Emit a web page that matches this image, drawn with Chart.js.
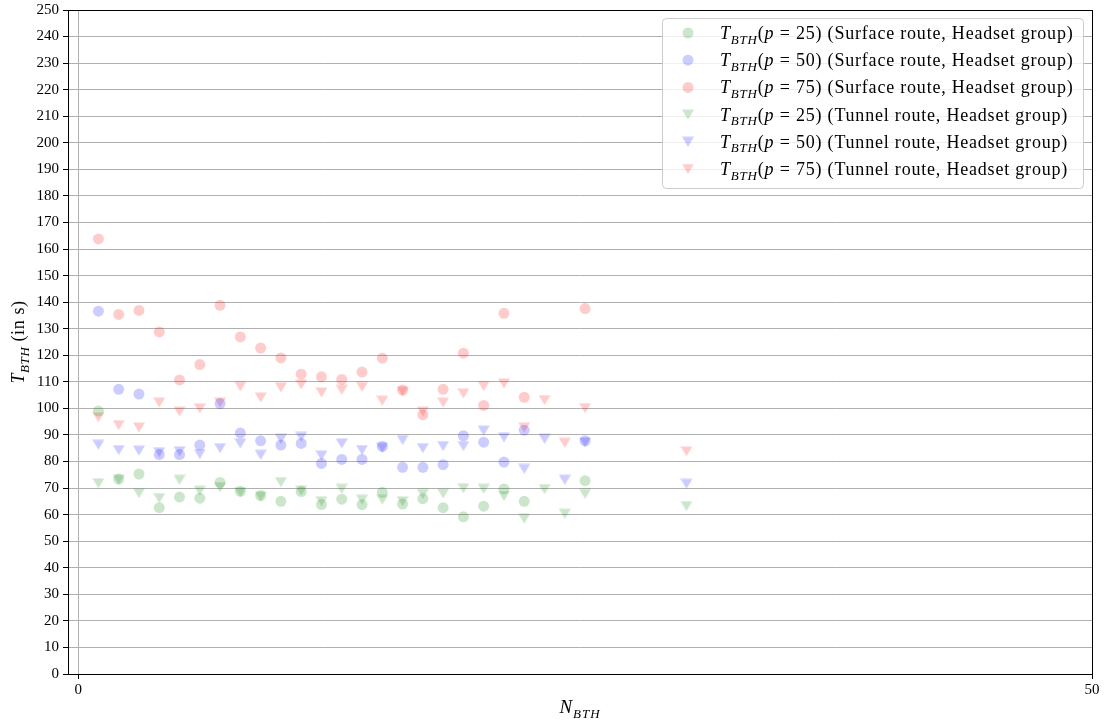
<!DOCTYPE html>
<html>
<head>
<meta charset="utf-8">
<script src="https://cdn.jsdelivr.net/npm/chart.js@4.4.0/dist/chart.umd.min.js"></script>
<style>
  html, body { margin: 0; padding: 0; background: #fff; }
</style>
</head>
<body>
<canvas id="chart" width="1109" height="722"></canvas>
<script>
// N_BTH values for each route
const surfaceN = [1, 2, 3, 4, 5, 6, 7, 8, 9, 10, 11, 12, 13, 14, 15, 16, 17, 18, 19, 20, 21, 22, 25];
const tunnelN = [1, 2, 3, 4, 5, 6, 7, 8, 9, 10, 11, 12, 13, 14, 15, 16, 17, 18, 19, 20, 21, 22, 23, 24, 25, 30];

// T_BTH percentiles, surface route
const surfaceP25 = [99, 73.4, 75.3, 62.6, 66.6, 66.2, 72.1, 68.8, 67.2, 65, 68.7, 63.8, 65.8, 63.8, 68.4, 64, 66, 62.6, 59.2, 63.2, 69.7, 65, 72.8];
const surfaceP50 = [136.6, 107.2, 105.4, 82.6, 82.6, 86.2, 101.8, 90.7, 87.8, 86.2, 86.8, 79.3, 80.8, 80.8, 85.7, 77.8, 77.8, 78.8, 89.7, 87.3, 79.8, 91.8, 87.8];
const surfaceP75 = [163.8, 135.4, 136.9, 128.8, 110.7, 116.5, 138.8, 126.9, 122.7, 119, 112.9, 111.9, 110.9, 113.7, 118.9, 106.9, 97.6, 107.2, 120.8, 101.1, 135.8, 104.2, 137.6];

// T_BTH percentiles, tunnel route
const tunnelP25 = [71.8, 73.1, 68.1, 66.2, 73.1, 69, 70.3, 68.4, 66.8, 72.2, 69, 65, 69.7, 65.6, 65.6, 65, 67.8, 68, 69.9, 69.7, 67, 58.5, 69.6, 60.3, 67.8, 63.2];
const tunnelP50 = [86.3, 84.3, 84.1, 83.5, 83.8, 82.8, 85, 86.8, 82.5, 88.5, 89.3, 82.2, 86.8, 84.3, 85.1, 88.1, 85, 85.8, 85.8, 91.6, 89.1, 77.2, 88.5, 73.1, 87.2, 71.6];
const tunnelP75 = [96.6, 93.7, 92.8, 102.2, 98.8, 100, 102.2, 108.2, 104.1, 107.9, 109, 106, 107, 108.1, 102.9, 106.3, 98.8, 102.2, 105.6, 108.4, 109.4, 92.8, 103.1, 87, 100.1, 83.8];

const percentiles = [25, 50, 75, 25, 50, 75];
const routeLabels = ['Surface route', 'Surface route', 'Surface route', 'Tunnel route', 'Tunnel route', 'Tunnel route'];
const groupLabel = 'Headset group';
const xTicks = [0, 50];

const SERIF = "'Liberation Serif', 'DejaVu Serif', serif";
const GREEN = 'rgba(0, 128, 0, 0.2)';
const BLUE = 'rgba(0, 0, 255, 0.2)';
const RED = 'rgba(255, 0, 0, 0.2)';

// down triangle marker centred on its bounding box (like matplotlib 'v')
function triMarker(color) {
    const c = document.createElement('canvas');
    c.width = 12; c.height = 11;
    const g = c.getContext('2d');
    g.fillStyle = color;
    g.beginPath();
    g.moveTo(0, 0.5);
    g.lineTo(12, 0.5);
    g.lineTo(6, 10.5);
    g.closePath();
    g.fill();
    return c;
}

function pts(xs, ys) {
    return xs.map((x, i) => ({ x: x, y: ys[i] }));
}

function circleSet(xs, ys, color) {
    return { data: pts(xs, ys), backgroundColor: color, borderWidth: 0, pointStyle: 'circle', pointRadius: 5.5, pointHoverRadius: 5.5 };
}
function triSet(xs, ys, color) {
    return { data: pts(xs, ys), backgroundColor: color, borderWidth: 0, pointStyle: triMarker(color), pointRadius: 6, pointHoverRadius: 6 };
}

const datasets = [
    circleSet(surfaceN, surfaceP25, GREEN),
    circleSet(surfaceN, surfaceP50, BLUE),
    circleSet(surfaceN, surfaceP75, RED),
    triSet(tunnelN, tunnelP25, GREEN),
    triSet(tunnelN, tunnelP50, BLUE),
    triSet(tunnelN, tunnelP75, RED)
];

// text made of parts: [text, 'r' | 'i' | 's']  (roman, italic, italic subscript)
function fontFor(style, size) {
    if (style === 's') return 'italic ' + Math.round(size * 0.7) + 'px ' + SERIF;
    if (style === 'i') return 'italic ' + size + 'px ' + SERIF;
    return size + 'px ' + SERIF;
}
function richWidth(ctx, parts, size, spacing) {
    let w = 0;
    ctx.letterSpacing = spacing + 'px';
    parts.forEach(p => {
        ctx.font = fontFor(p[1], size);
        w += ctx.measureText(p[0]).width;
    });
    return w;
}
function drawRich(ctx, parts, x, y, size, spacing) {
    ctx.textBaseline = 'alphabetic';
    ctx.textAlign = 'left';
    ctx.letterSpacing = spacing + 'px';
    let cx = x;
    parts.forEach(p => {
        ctx.font = fontFor(p[1], size);
        const dy = p[1] === 's' ? size * 0.25 : 0;
        ctx.fillText(p[0], cx, y + dy);
        cx += ctx.measureText(p[0]).width;
    });
    ctx.letterSpacing = '0px';
}

const decorPlugin = {
    id: 'decor',
    afterDraw(chart) {
        const ctx = chart.ctx;
        const a = chart.chartArea;
        ctx.save();

        // frame
        ctx.strokeStyle = '#000';
        ctx.lineWidth = 1;
        ctx.strokeRect(Math.round(a.left) + 0.5, Math.round(a.top) + 0.5, Math.round(a.right - a.left), Math.round(a.bottom - a.top));

        ctx.fillStyle = '#000';
        // x title
        const xt = [['N', 'i'], ['BTH', 's']];
        const xw = richWidth(ctx, xt, 19, 1);
        drawRich(ctx, xt, (a.left + a.right) / 2 - xw / 2, 713, 19, 1);

        // y title
        const yt = [['T', 'i'], ['BTH', 's'], [' (in s)', 'r']];
        const yw = richWidth(ctx, yt, 18, 0.6);
        ctx.save();
        ctx.translate(24, (a.top + a.bottom) / 2);
        ctx.rotate(-Math.PI / 2);
        drawRich(ctx, yt, -yw / 2, 0, 18, 0.6);
        ctx.restore();

        // legend
        const bx = a.right - 430, by = a.top + 8, bw = 421, bh = 170;
        ctx.fillStyle = 'rgba(255,255,255,0.8)';
        ctx.strokeStyle = '#cccccc';
        ctx.beginPath();
        ctx.roundRect(bx + 0.5, by + 0.5, bw, bh, 4);
        ctx.fill();
        ctx.stroke();

        chart.data.datasets.forEach((ds, i) => {
            const ry = by + 15 + i * 27.2;
            ctx.fillStyle = ds.backgroundColor;
            Chart.helpers.drawPoint(ctx, { pointStyle: ds.pointStyle, rotation: 0, radius: ds.pointRadius, borderWidth: 0 }, bx + 26, ry);
            ctx.fillStyle = '#000';
            const parts = [['T', 'i'], ['BTH', 's'], ['(', 'r'], ['p', 'i'], [' = ' + percentiles[i] + ') (' + routeLabels[i] + ', ' + groupLabel + ')', 'r']];
            drawRich(ctx, parts, bx + 58, ry + 6, 18, 0.8);
        });
        ctx.restore();
    }
};

new Chart(document.getElementById('chart'), {
    type: 'scatter',
    data: { datasets: datasets },
    options: {
        responsive: false,
        animation: false,
        devicePixelRatio: 1,
        layout: { padding: { top: 10, right: 17, left: 0, bottom: 0 } },
        plugins: {
            legend: { display: false },
            tooltip: { enabled: false }
        },
        scales: {
            x: {
                type: 'linear',
                min: -0.5,
                max: 50,
                afterBuildTicks: s => { s.ticks = xTicks.map(v => ({ value: v })); },
                afterFit: s => { s.height = 48; s.paddingLeft = 0; s.paddingRight = 0; },
                grid: { color: '#b0b0b0', lineWidth: 1, tickColor: '#000', tickLength: 5 },
                border: { color: '#000', width: 1 },
                ticks: { color: '#000', font: { family: SERIF, size: 15 }, padding: 2, maxRotation: 0 }
            },
            y: {
                min: 0,
                max: 250,
                afterFit: s => { s.width = 68; s.paddingTop = 0; s.paddingBottom = 0; },
                grid: { color: '#b0b0b0', lineWidth: 1, tickColor: '#000', tickLength: 5 },
                border: { color: '#000', width: 1 },
                ticks: { stepSize: 10, autoSkip: false, color: '#000', font: { family: SERIF, size: 15 }, padding: 4 }
            }
        }
    },
    plugins: [decorPlugin]
});
</script>
</body>
</html>
